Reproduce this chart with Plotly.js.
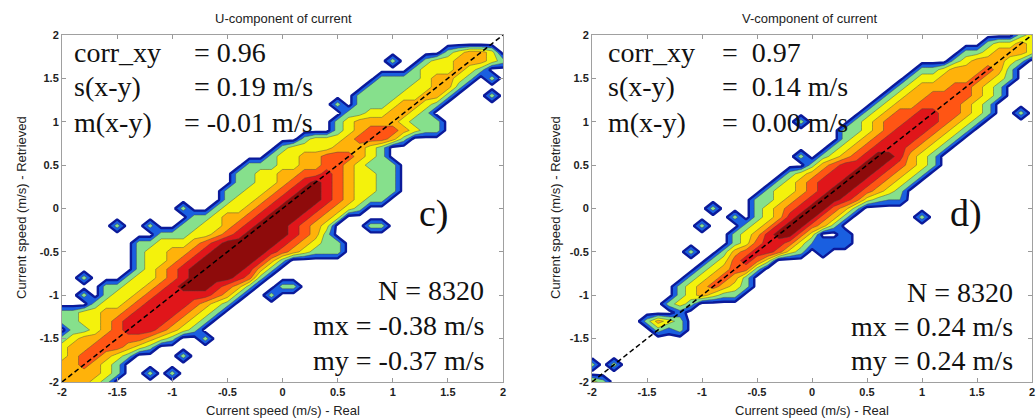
<!DOCTYPE html>
<html><head><meta charset="utf-8">
<script src="https://cdn.plot.ly/plotly-3.0.1.min.js"></script>
<style>html,body{margin:0;padding:0;background:#fff;}#chart{width:1036px;height:419px;}</style>
</head><body><div id="chart"></div>
<script>
// 2-D histogram bin centres (m/s), shared by both axes
const bins = [-2,-1.9,-1.8,-1.7,-1.6,-1.5,-1.4,-1.3,-1.2,-1.1,-1,-0.9,-0.8,-0.7,-0.6,-0.5,-0.4,-0.3,-0.2,-0.1,0,
              0.1,0.2,0.3,0.4,0.5,0.6,0.7,0.8,0.9,1,1.1,1.2,1.3,1.4,1.5,1.6,1.7,1.8,1.9,2];
const tickVals = [-2,-1.5,-1,-0.5,0,0.5,1,1.5,2];
const tickText = ["-2","-1.5","-1","-0.5","0","0.5","1","1.5","2"];
const refLine = [-2, 2];

// density class per bin, one string per row (y = -2 ... 2), "firstColumn:classes"
const rowsU = [
 "0:44432","0:444432","0:445432","0:3455432","0:344555432","0:23445555432",
 "0:0223456665432","0:22334566665432","0:223344566665432","3:2334566665432",
 "4:2334566666542","4:22334567776542","6:2334567777652","7:2345677777642",
 "7:23345677777642","7:2334456777776543222","7:2233345677777654322",
 "9:2223345677776542","11:22334567776543","12:22344567776543","14:23345677765432",
 "15:233456777654322","15:2233456776543322","16:223345676543322","16:223344556543322",
 "17:22233445543222","19:23344555432","20:2333344432","22:2333455542","25:2345554322",
 "25:2344443222","26:22334432","27:22234432","27:222233442","28:222233442",
 "29:222234432","32:2333432","33:23344432","35:23443","",""
];
const outUx = [-1.8,-1.8,-1.5,-1.2,-0.9,0.5,1.0,1.9,1.9,0.8,0.9,-0.1,0.0,0.1,-0.7,-0.9,-1.2,-1.0];
const outUy = [-0.8,-1.0,-0.2,-0.2,0.0,1.2,1.7,1.5,1.3,-0.2,-0.2,-1.0,-0.9,-0.9,-1.5,-1.7,-1.9,-1.9];
const outUv = [2,2,2,2,2,2,2,2,2,2,2,2,2,2,2,2,2,2];

const rowsV = [
 "0:32","","0:202","","","","6:212","5:2432","8:1","7:232",
 "8:234322","8:2345432","9:234542","10:234552","11:235653","12:24566532",
 "13:2356653","13:23467753","14:234677542","15:234677542","15:2345677542",
 "15:223456776532","16:2334567765432","17:2345667765432","18:2345667765432",
 "20:245667765432","21:23456776432","22:23456665432","23:23456665432",
 "23:223456665432","24:234556665432","25:234556655432","26:23445555432",
 "27:23445555432","28:2344455432","29:2334445432","31:23444542","33:2344432",
 "34:2234443","36:23343","39:23"
];
const outVx = [-0.1,-0.1,-0.9,-1.0,-0.7,-1.1,1.0,1.9,1.0,0.7,0.8,0.0,0.1,0.1,0.2,0.3,0.3];
const outVy = [1.0,0.6,0.0,-0.2,-0.1,-0.5,-0.1,1.1,1.6,0.1,0.1,-0.4,-0.4,-0.5,-0.4,-0.4,-0.3];
const outVv = [2,2,2,2,2,2,2,2,2,1.5,1.5,1.5,1.5,1.5,1.5,1.5,1.5];

const bandColors = ['#ffffff','#1a5fe0','#86e08c','#f4f20c','#ffb20a','#ff5514','#e0161a','#8e0b0b'];

function idx(v){ return bins.findIndex(b => Math.abs(b - v) < 1e-9); }
function grid(rows, ox, oy, ov){
  const n = bins.length, z = [];
  for (let j = 0; j < n; j++){
    const r = new Array(n).fill(0);
    const s = rows[j];
    if (s){
      const p = s.split(':'), st = parseInt(p[0], 10);
      for (let k = 0; k < p[1].length; k++) r[st + k] = parseInt(p[1][k], 10);
    }
    z.push(r);
  }
  for (let k = 0; k < ox.length; k++){
    const i = idx(ox[k]), j = idx(oy[k]);
    z[j][i] = Math.max(z[j][i], ov[k]);
  }
  return z;
}
const nb = bandColors.length - 1;
const cscale = [];
bandColors.forEach((c, k) => {
  const lo = k === 0 ? 0 : (k - 0.5) / nb, hi = k === nb ? 1 : (k + 0.5) / nb;
  cscale.push([lo, c]); cscale.push([hi, c]);
});

const zU = grid(rowsU, outUx, outUy, outUv);
const zV = grid(rowsV, outVx, outVy, outVv);

function fillTrace(z, xa, ya){
  return {type:'contour', x:bins, y:bins, z:z, xaxis:xa, yaxis:ya, autocontour:false,
    contours:{start:0.5, end:6.5, size:1, coloring:'fill', showlines:true},
    line:{color:'rgba(70,70,70,0.75)', width:0.6, smoothing:0},
    colorscale:cscale, zmin:0, zmax:7, showscale:false, hoverinfo:'skip'};
}
function edgeTrace(z, xa, ya){
  return {type:'contour', x:bins, y:bins, z:z, xaxis:xa, yaxis:ya, autocontour:false,
    contours:{start:0.5, end:0.5, size:10, coloring:'none'},
    line:{color:'#0b1a9a', width:2.4, smoothing:0}, showscale:false, hoverinfo:'skip'};
}
function diag(xa, ya){
  return {type:'scatter', mode:'lines', x:refLine, y:refLine, xaxis:xa, yaxis:ya,
    line:{color:'#000', width:1.5, dash:'5px,3px'}, hoverinfo:'skip'};
}

const data = [fillTrace(zU,'x','y'), edgeTrace(zU,'x','y'), diag('x','y'),
              fillTrace(zV,'x2','y2'), edgeTrace(zV,'x2','y2'), diag('x2','y2')];

const tickFont = {family:'Liberation Sans', size:11, color:'#222', weight:700};
function axis(dom, anchor){
  return {domain:dom, range:[-2,2], anchor:anchor, tickvals:tickVals, ticktext:tickText,
    ticks:'inside', ticklen:4, tickcolor:'#999', showline:true, linecolor:'#a0a0a0', linewidth:1,
    mirror:'ticks', showgrid:false, zeroline:false, tickfont:tickFont, fixedrange:true};
}
const W = 1036, H = 419;
const px = v => v / W, py = v => (H - v) / H;
const serif = {family:'Liberation Serif', size:28, color:'#111'};
const sans = {family:'Liberation Sans', size:13, color:'#222'};
function ann(text, x, y, xa, font, extra){
  return Object.assign({text:text, x:px(x), y:py(y), xref:'paper', yref:'paper', xanchor:xa,
    yanchor:'middle', showarrow:false, font:font}, extra || {});
}
const big = {family:'Liberation Serif', size:38, color:'#111'};
const annotations = [
  ann('U-component of current', 283, 18, 'center', sans),
  ann('V-component of current', 810, 18, 'center', sans),
  ann('Current speed (m/s) - Real', 283, 410, 'center', sans),
  ann('Current speed (m/s) - Real', 812, 410, 'center', sans),
  ann('Current speed (m/s) - Retrieved', 21, 208, 'center', sans, {textangle:-90}),
  ann('Current speed (m/s) - Retrieved', 555, 208, 'center', sans, {textangle:-90}),
  ann('corr_xy', 72, 52, 'left', serif), ann('= 0.96', 192, 52, 'left', serif),
  ann('s(x-y)', 72, 87, 'left', serif), ann('= 0.19 m/s', 192, 87, 'left', serif),
  ann('m(x-y)', 72, 122, 'left', serif), ann('= -0.01 m/s', 182, 122, 'left', serif),
  ann('N = 8320', 486, 290, 'right', serif),
  ann('mx = -0.38 m/s', 486, 325, 'right', serif),
  ann('my = -0.37 m/s', 486, 360, 'right', serif),
  ann('c)', 417, 213, 'left', big),
  ann('corr_xy', 606, 52, 'left', serif), ann('=&nbsp;&nbsp;0.97', 720, 52, 'left', serif),
  ann('s(x-y)', 606, 87, 'left', serif), ann('=&nbsp;&nbsp;0.14 m/s', 720, 87, 'left', serif),
  ann('m(x-y)', 606, 122, 'left', serif), ann('=&nbsp;&nbsp;0.00 m/s', 720, 122, 'left', serif),
  ann('N = 8320', 1015, 292, 'right', serif),
  ann('mx = 0.24 m/s', 1015, 326, 'right', serif),
  ann('my = 0.24 m/s', 1015, 360, 'right', serif),
  ann('d)', 948, 213, 'left', big)
];

const yDom = [(H - 382) / H, (H - 35) / H];
const layout = {
  width:W, height:H, margin:{l:0,r:0,t:0,b:0}, paper_bgcolor:'#fff', plot_bgcolor:'#fff',
  showlegend:false, hovermode:false,
  xaxis: axis([62/W, 503/W], 'y'), yaxis: axis(yDom, 'x'),
  xaxis2: axis([592/W, 1032/W], 'y2'), yaxis2: axis(yDom, 'x2'),
  annotations: annotations
};
Plotly.newPlot('chart', data, layout, {staticPlot:true, displayModeBar:false});
</script></body></html>
